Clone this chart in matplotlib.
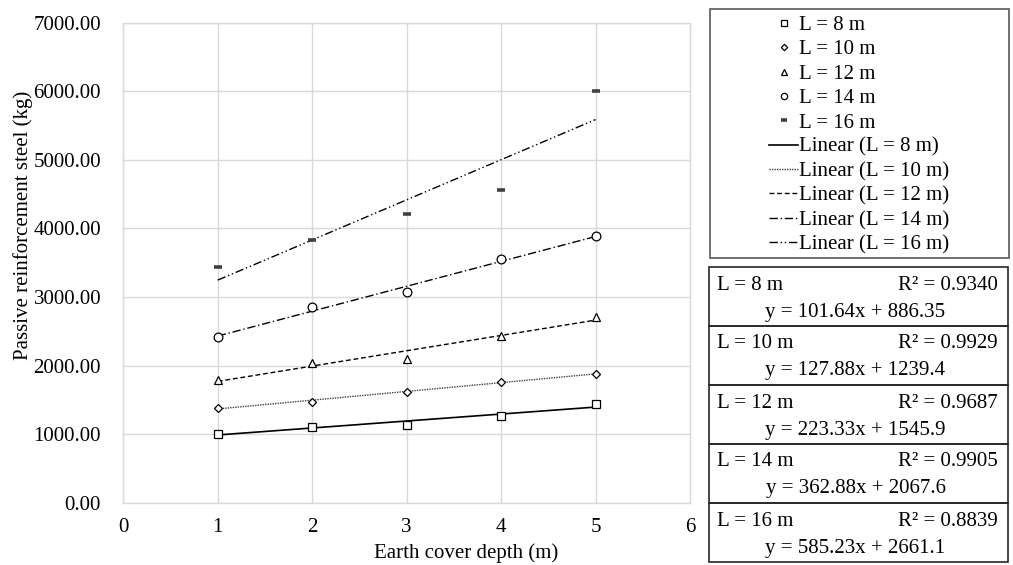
import numpy as np
import matplotlib.pyplot as plt
from matplotlib.patches import Rectangle

plt.rcParams['font.family'] = ['Liberation Serif', 'DejaVu Serif']

# data
depth = [1, 2, 3, 4, 5]
steel_8 = [1000, 1110, 1131, 1271, 1435]
steel_10 = [1383, 1475, 1616, 1757, 1884]
steel_12 = [1786, 2038, 2101, 2435, 2705]
steel_14 = [2421, 2853, 3067, 3547, 3886]
steel_16 = [3440, 3833, 4211, 4566, 6007]

spans = ['8', '10', '12', '14', '16']
slopes = [101.64, 127.88, 223.33, 362.88, 585.23]
intercepts = [886.35, 1239.4, 1545.9, 2067.6, 2661.1]
r2 = [0.9340, 0.9929, 0.9687, 0.9905, 0.8839]

series = [steel_8, steel_10, steel_12, steel_14, steel_16]
markers = [('s', 6, 0.9), ('D', 4.5, 0.9), ('^', 6, 0.9), ('o', 6.3, 0.9), ('_', 6, 2.6)]
trend_styles = [
    ('-', '#000000', 1.2),
    ((0, (1, 0.8)), '#404040', 1.0),
    ((0, (3.5, 2)), '#000000', 1.0),
    ((0, (6, 2, 1, 2)), '#000000', 1.0),
    ((0, (6, 2, 1, 2, 1, 2)), '#000000', 1.0),
]

W, H = 1013, 565
fig = plt.figure(figsize=(W / 100, H / 100), dpi=100)


def fx(px):
    return px / W


def fy(py):
    return 1 - py / H


ax = fig.add_axes([fx(123.3), fy(502.7), fx(690) - fx(123.3), fy(22.7) - fy(502.7)])

marker_handles = []
line_handles = []
for i, vals in enumerate(series):
    m, ms, mew = markers[i]
    col = '#404040' if m == '_' else 'black'
    h, = ax.plot(depth, vals, linestyle='none', marker=m, markersize=ms,
                 markeredgewidth=mew, markerfacecolor='white', markeredgecolor=col,
                 label=f'L = {spans[i]} m', zorder=4)
    marker_handles.append(h)

for i in range(len(series)):
    xs = np.array([depth[0], depth[-1]])
    ls, col, lw = trend_styles[i]
    h, = ax.plot(xs, slopes[i] * xs + intercepts[i], linestyle=ls, color=col, lw=lw,
                 label=f'Linear (L = {spans[i]} m)', zorder=3)
    line_handles.append(h)

ax.set_xlim(0, 6)
ax.set_ylim(0, 7000)
ax.set_xticks(range(0, 7))
ax.set_yticks(range(0, 7001, 1000))
ax.set_yticklabels([f'{v:.2f}' for v in range(0, 7001, 1000)])
ax.grid(True, color='#d9d9d9', lw=1)
ax.set_axisbelow(True)
for s in ax.spines.values():
    s.set_color('#d9d9d9')
    s.set_linewidth(1)
ax.tick_params(length=0, labelsize=15)
ax.tick_params(axis='y', pad=16)
ax.tick_params(axis='x', pad=11)

ax.set_xlabel('Earth cover depth (m)', fontsize=15)
ax.set_ylabel('Passive reinforcement steel (kg)', fontsize=15)
ax.xaxis.set_label_coords((466 - 123.3) / 566.7, (502.7 - 543) / 480)
ax.yaxis.set_label_coords((33 - 123.3) / 566.7, (502.7 - 225) / 480)

# legend box
lx0, lx1, ly0, ly1 = 710, 1009, 9, 258
fig.patches.append(Rectangle((fx(lx0), fy(ly1)), fx(lx1) - fx(lx0), fy(ly0) - fy(ly1),
                             transform=fig.transFigure, fill=False,
                             edgecolor='#595959', lw=1.2))
fig.legend(handles=marker_handles + line_handles, loc='center',
           bbox_to_anchor=(fx((lx0 + lx1) / 2), fy((ly0 + ly1) / 2 + 1.5)),
           frameon=False, fontsize=15, handlelength=1.4, handletextpad=0.05,
           labelspacing=0.23, markerscale=0.72, borderpad=0)

# trendline equation table
tx0, tx1, ty0, row_h = 709, 1008, 267, 59
for i in range(len(spans)):
    top = ty0 + i * row_h
    fig.patches.append(Rectangle((fx(tx0), fy(top + row_h)), fx(tx1) - fx(tx0),
                                 fy(top) - fy(top + row_h), transform=fig.transFigure,
                                 fill=False, edgecolor='#262626', lw=1.2))
    fig.text(fx(tx0 + 8), fy(top + 18), f'L = {spans[i]} m', fontsize=15,
             ha='left', va='center')
    fig.text(fx(tx1 - 10), fy(top + 18), f'R² = {r2[i]:.4f}', fontsize=15,
             ha='right', va='center')
    fig.text(fx((tx0 + tx1) / 2 - 3), fy(top + 45),
             f'y = {slopes[i]:.5g}x + {intercepts[i]:.5g}', fontsize=15,
             ha='center', va='center')

fig.savefig('out.png', dpi=100)
